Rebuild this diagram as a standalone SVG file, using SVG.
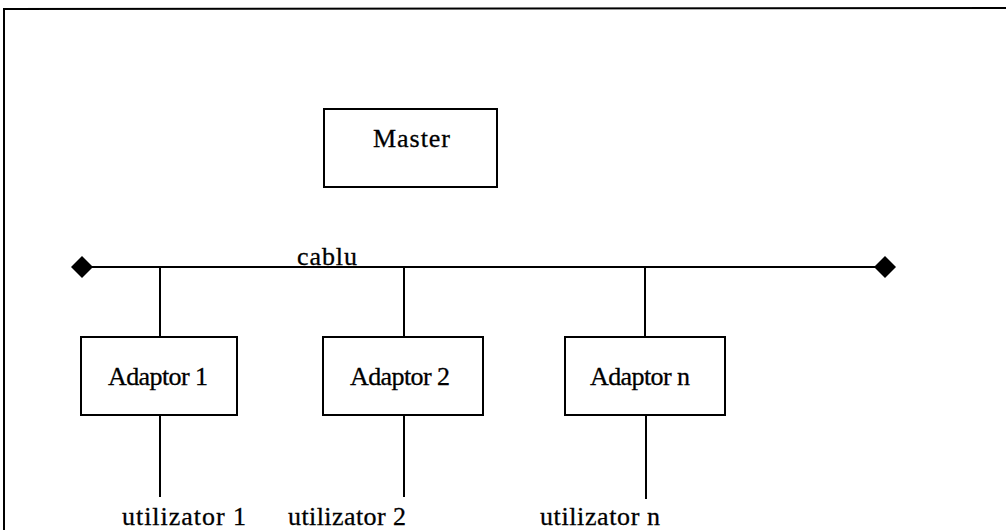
<svg xmlns="http://www.w3.org/2000/svg" width="1006" height="530" viewBox="0 0 1006 530">
<style>
.box{fill:#fff;stroke:#000;stroke-width:2}
.ln{stroke:#000;stroke-width:2;fill:none}
.t{font-family:"Liberation Serif","Times New Roman","DejaVu Serif",serif;font-size:26px;fill:#000;stroke:#000;stroke-width:0.3}
</style>
<rect width="1006" height="530" fill="#fff"/>
<g id="frame"><path class="ln" d="M4,530 L4,9 L1006,8"/></g>
<g id="connectors">
<line class="ln" x1="82" y1="267" x2="885" y2="267" stroke-width="3"/>
<polygon points="71,267 82,256 93,267 82,278" fill="#000"/>
<polygon points="874,267 885,256 896,267 885,278" fill="#000"/>
<line class="ln" x1="160" y1="267" x2="160" y2="337"/>
<line class="ln" x1="404" y1="267" x2="404" y2="337"/>
<line class="ln" x1="645" y1="267" x2="645" y2="337"/>
<line class="ln" x1="160" y1="415" x2="160" y2="497"/>
<line class="ln" x1="404" y1="415" x2="404" y2="497"/>
<line class="ln" x1="646" y1="415" x2="646" y2="499"/>
</g>
<g id="cablu"><text class="t" x="297" y="265" textLength="60">cablu</text></g>
<g id="master"><rect class="box" x="324" y="109" width="173" height="78"/><text class="t" x="373" y="147" textLength="77">Master</text></g>
<g id="adaptor1"><rect class="box" x="81" y="337" width="156" height="78"/><text class="t" x="108" y="385" textLength="100">Adaptor 1</text></g>
<g id="adaptor2"><rect class="box" x="323" y="337" width="160" height="78"/><text class="t" x="350" y="385" textLength="100">Adaptor 2</text></g>
<g id="adaptorn"><rect class="box" x="565" y="337" width="160" height="78"/><text class="t" x="590" y="385" textLength="100">Adaptor n</text></g>
<g id="user1"><text class="t" x="122" y="525" textLength="124">utilizator 1</text></g>
<g id="user2"><text class="t" x="288" y="525" textLength="118">utilizator 2</text></g>
<g id="usern"><text class="t" x="540" y="525" textLength="120">utilizator n</text></g>
</svg>
